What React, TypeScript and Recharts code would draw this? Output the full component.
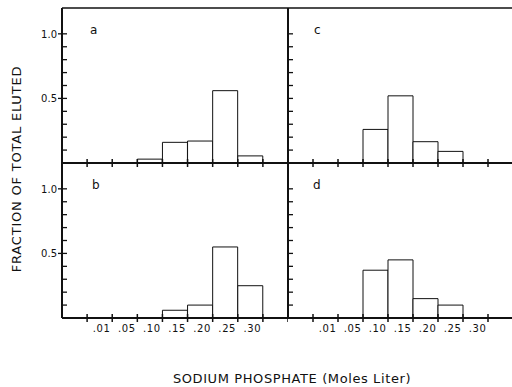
import React from 'react';
import { BarChart, Bar, XAxis, YAxis, ReferenceLine } from 'recharts';

// bins of sodium phosphate molarity; first and last are unlabelled padding bins
const BINS = ['lo', '.01', '.05', '.10', '.15', '.20', '.25', '.30', 'hi'];

// fraction of total eluted per bin, one list per panel
const PANEL_A = [null, null, null, 0.03, 0.16, 0.17, 0.56, 0.055, null];
const PANEL_B = [null, null, null, null, 0.06, 0.1, 0.55, 0.25, null];
const PANEL_C = [null, null, null, 0.26, 0.52, 0.165, 0.09, null, null];
const PANEL_D = [null, null, null, 0.37, 0.45, 0.15, 0.1, null, null];

const Y_TICKS = [0.1, 0.2, 0.3, 0.4, 0.5, 0.6, 0.7, 0.8, 0.9, 1.0];
const Y_LABELS = ['0.5', '1.0'];

const INK = '#111';
const FONT = '"DejaVu Sans", "Liberation Sans", sans-serif';
const PLOT_H = 155;

function XTick(props: any) {
  const { x, y, payload, index, bw, showLabel, count } = props;
  const half = bw / 2;
  const label = payload.value === 'lo' || payload.value === 'hi' ? '' : payload.value;
  return (
    <g>
      {index > 0 && <line x1={x - half} x2={x - half} y1={y - 4} y2={y + 4} stroke={INK} strokeWidth={1.5} />}
      {index === count - 1 && <line x1={x + half} x2={x + half} y1={y - 4} y2={y + 4} stroke={INK} strokeWidth={1.5} />}
      {showLabel && label && (
        <text x={x + 2} y={y + 14} textAnchor="middle" fontSize={10} fontFamily={FONT} fill={INK} letterSpacing={0.6}>
          {label}
        </text>
      )}
    </g>
  );
}

function YTick(props: any) {
  const { x, y, payload, showLabel } = props;
  const lab = payload.value.toFixed(1);
  const labelled = showLabel && Y_LABELS.includes(lab);
  return (
    <g>
      <line x1={labelled ? x - 4 : x} x2={x + 5} y1={y} y2={y} stroke={INK} strokeWidth={1.3} />
      {labelled && (
        <text x={x - 5} y={y + 4} textAnchor="end" fontSize={10} fontFamily={FONT} fill={INK}>
          {lab}
        </text>
      )}
    </g>
  );
}

type PanelProps = {
  vals: (number | null)[];
  left: number;
  top: number;
  yAxisW: number;
  marginTop: number;
  xAxisH: number;
  plotW: number;
  showY: boolean;
  showX: boolean;
  border: boolean;
};

function Panel({ vals, left, top, yAxisW, marginTop, xAxisH, plotW, showY, showX, border }: PanelProps) {
  const rows = BINS.map((b, i) => ({ bin: b, v: vals[i] }));
  const bw = plotW / BINS.length;
  return (
    <div style={{ position: 'absolute', left, top }}>
      <BarChart
        width={yAxisW + plotW}
        height={marginTop + PLOT_H + xAxisH}
        data={rows}
        margin={{ top: marginTop, right: 0, bottom: 0, left: 0 }}
        barCategoryGap={0}
        barGap={0}
      >
        <XAxis
          dataKey="bin"
          height={xAxisH}
          tickSize={0}
          tickMargin={0}
          tickLine={false}
          interval={0}
          axisLine={{ stroke: INK, strokeWidth: 2 }}
          tick={(p: any) => <XTick {...p} bw={bw} showLabel={showX} count={BINS.length} />}
        />
        <YAxis
          width={yAxisW}
          domain={[0, 1.2]}
          ticks={Y_TICKS}
          tickSize={0}
          tickMargin={0}
          tickLine={false}
          interval={0}
          axisLine={{ stroke: INK, strokeWidth: 2 }}
          tick={(p: any) => <YTick {...p} showLabel={showY} />}
        />
        {border && <ReferenceLine y={1.2} stroke={INK} strokeWidth={1.6} />}
        <Bar dataKey="v" fill="#fff" stroke={INK} strokeWidth={1} isAnimationActive={false} />
      </BarChart>
    </div>
  );
}

export default function App() {
  return (
    <div style={{ position: 'absolute', left: 0, top: 0, width: 512, height: 387, overflow: 'hidden', background: '#fff' }}>
      <Panel vals={PANEL_A} left={0} top={0} yAxisW={62} marginTop={8} xAxisH={10} plotW={226} showY showX={false} border />
      <Panel vals={PANEL_C} left={268} top={0} yAxisW={20} marginTop={8} xAxisH={10} plotW={225} showY={false} showX={false} border />
      <Panel vals={PANEL_B} left={0} top={158} yAxisW={62} marginTop={5} xAxisH={22} plotW={226} showY showX border={false} />
      <Panel vals={PANEL_D} left={268} top={158} yAxisW={20} marginTop={5} xAxisH={22} plotW={225} showY={false} showX border={false} />
      <svg width={512} height={387} style={{ position: 'absolute', left: 0, top: 0, pointerEvents: 'none' }}>
        <g fontFamily={FONT} fill={INK}>
          <text x={90} y={34} fontSize={12}>a</text>
          <text x={314} y={34} fontSize={12}>c</text>
          <text x={92} y={189} fontSize={12}>b</text>
          <text x={313} y={189} fontSize={12}>d</text>
          <text
            x={0}
            y={0}
            fontSize={13}
            letterSpacing={0.8}
            textAnchor="middle"
            transform="translate(21, 169) rotate(-90)"
          >
            FRACTION OF TOTAL ELUTED
          </text>
          <text x={292} y={383} fontSize={13} letterSpacing={0.6} textAnchor="middle">
            SODIUM PHOSPHATE (Moles Liter)
          </text>
        </g>
      </svg>
    </div>
  );
}
